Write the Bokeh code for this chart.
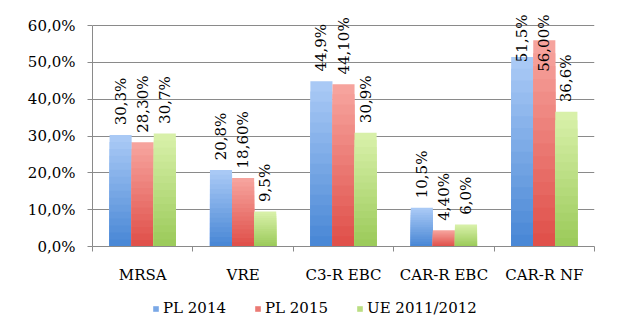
import math
from bokeh.plotting import figure
from bokeh.layouts import column
from bokeh.models import Range1d, FixedTicker, Legend, LegendItem
from bokeh.core.properties import value
from bokeh.embed import file_html
from bokeh.resources import INLINE

# ---- data ----
categories = ["MRSA", "VRE", "C3-R EBC", "CAR-R EBC", "CAR-R NF"]
series_names = ["PL 2014", "PL 2015", "UE 2011/2012"]
pl2014 = [30.3, 20.8, 44.9, 10.5, 51.5]
pl2015 = [28.30, 18.60, 44.10, 4.40, 56.00]
ue_2011_2012 = [30.7, 9.5, 30.9, 6.0, 36.6]
pl2014_labels = ["30,3%", "20,8%", "44,9%", "10,5%", "51,5%"]
pl2015_labels = ["28,30%", "18,60%", "44,10%", "4,40%", "56,00%"]
ue_labels = ["30,7%", "9,5%", "30,9%", "6,0%", "36,6%"]
y_ticks = [0, 10, 20, 30, 40, 50, 60]
y_tick_labels = ["0,0%", "10,0%", "20,0%", "30,0%", "40,0%", "50,0%", "60,0%"]

# ---- style ----
FONT = "DejaVu Serif"
FS = "15px"
GRAY = "#8a8a8a"
light_colors = ["#a9c9f5", "#f6a39d", "#d8f0a9"]
dark_colors = ["#4a88d6", "#e0514b", "#9ccb5b"]
offsets = [-0.22, 0.0, 0.22]
BAR_W = 0.22
N_LAYERS = 16
LABEL_PAD = 2.6       # data units above bar top
CLAMP_ABOVE = 50      # labels of taller bars are pinned at the top
CLAMP_Y = 63.0

def lerp(c1, c2, t):
    a = [int(c1[i:i + 2], 16) for i in (1, 3, 5)]
    b = [int(c2[i:i + 2], 16) for i in (1, 3, 5)]
    return "#%02x%02x%02x" % tuple(round(a[j] + (b[j] - a[j]) * t) for j in range(3))

p = figure(width=640, height=286, output_backend="svg", toolbar_location=None,
           x_range=Range1d(0, len(categories)), y_range=Range1d(0, 66),
           min_border_left=92, min_border_right=46, min_border_top=3, min_border_bottom=39)
p.outline_line_color = None
p.background_fill_color = "white"
p.border_fill_color = "white"

series = [pl2014, pl2015, ue_2011_2012]
labels = [pl2014_labels, pl2015_labels, ue_labels]
for s, vals in enumerate(series):
    xs = [i + 0.5 + offsets[s] for i in range(len(categories))]
    for k in range(N_LAYERS):
        frac = 1 - k / N_LAYERS
        tops = [v * frac for v in vals]
        col = lerp(light_colors[s], dark_colors[s], k / (N_LAYERS - 1))
        p.vbar(x=xs, top=tops, bottom=0, width=BAR_W, fill_color=col, line_color=None)

    nx, ny, nt, cx, ct = [], [], [], [], []
    for x, v, t in zip(xs, vals, labels[s]):
        if v > CLAMP_ABOVE:
            cx.append(x); ct.append(t)
        else:
            nx.append(x); ny.append(v + LABEL_PAD); nt.append(t)
    p.text(x=nx, y=ny, text=nt, angle=math.pi / 2, text_align="left", text_baseline="middle",
           text_font=value(FONT), text_font_size=FS, text_color="black")
    if cx:
        p.text(x=cx, y=[CLAMP_Y] * len(cx), text=ct, angle=math.pi / 2, text_align="right",
               text_baseline="middle", text_font=value(FONT), text_font_size=FS, text_color="black")

# axes
centers = [i + 0.5 for i in range(len(categories))]
p.xaxis.ticker = FixedTicker(ticks=centers, minor_ticks=list(range(len(categories) + 1)))
p.xaxis.major_label_overrides = {c: n for c, n in zip(centers, categories)}
p.xaxis.major_tick_line_color = None
p.xaxis.major_tick_out = 5
p.xaxis.major_tick_in = 0
p.xaxis.minor_tick_line_color = GRAY
p.xaxis.minor_tick_out = 5
p.xaxis.minor_tick_in = 0
p.xaxis.axis_line_color = GRAY
p.xaxis.major_label_standoff = 14

p.yaxis.ticker = FixedTicker(ticks=y_ticks)
p.yaxis.major_label_overrides = {t: l for t, l in zip(y_ticks, y_tick_labels)}
p.yaxis.bounds = (0, 60)
p.yaxis.axis_line_color = GRAY
p.yaxis.major_tick_line_color = GRAY
p.yaxis.major_tick_out = 5
p.yaxis.major_tick_in = 0
p.yaxis.minor_tick_line_color = None
p.yaxis.major_label_standoff = 12

for ax in (p.xaxis[0], p.yaxis[0]):
    ax.major_label_text_font = FONT
    ax.major_label_text_font_size = FS
    ax.major_label_text_color = "black"

p.xgrid.visible = False
p.ygrid.ticker = FixedTicker(ticks=y_ticks)
p.ygrid.grid_line_color = GRAY
p.ygrid.grid_line_width = 1

# ---- legend strip ----
p2 = figure(width=640, height=37, output_backend="svg", toolbar_location=None,
            x_axis_location=None, y_axis_location=None,
            x_range=Range1d(0, 1), y_range=Range1d(0, 1),
            min_border_left=0, min_border_right=0, min_border_top=0, min_border_bottom=0)
p2.outline_line_color = None
p2.xgrid.visible = False
p2.ygrid.visible = False
items = []
for s, name in enumerate(series_names):
    r = p2.vbar(x=[0], top=[0], bottom=[0], width=0, fill_color=lerp(light_colors[s], dark_colors[s], 0.5),
                line_color=None)
    items.append(LegendItem(label=name, renderers=[r]))
legend = Legend(items=items, orientation="horizontal", location=(60, 6),
                label_text_font_size=FS, label_text_color="black",
                label_height=18, glyph_width=7, glyph_height=7, spacing=28, label_standoff=4,
                padding=0, margin=0, border_line_color=None, background_fill_alpha=0)
try:
    legend.label_text_font = value(FONT)
except Exception:
    legend.label_text_font = FONT
p2.add_layout(legend, "center")

layout = column(p, p2, spacing=0)
open("out.html", "w").write(file_html(layout, INLINE))
